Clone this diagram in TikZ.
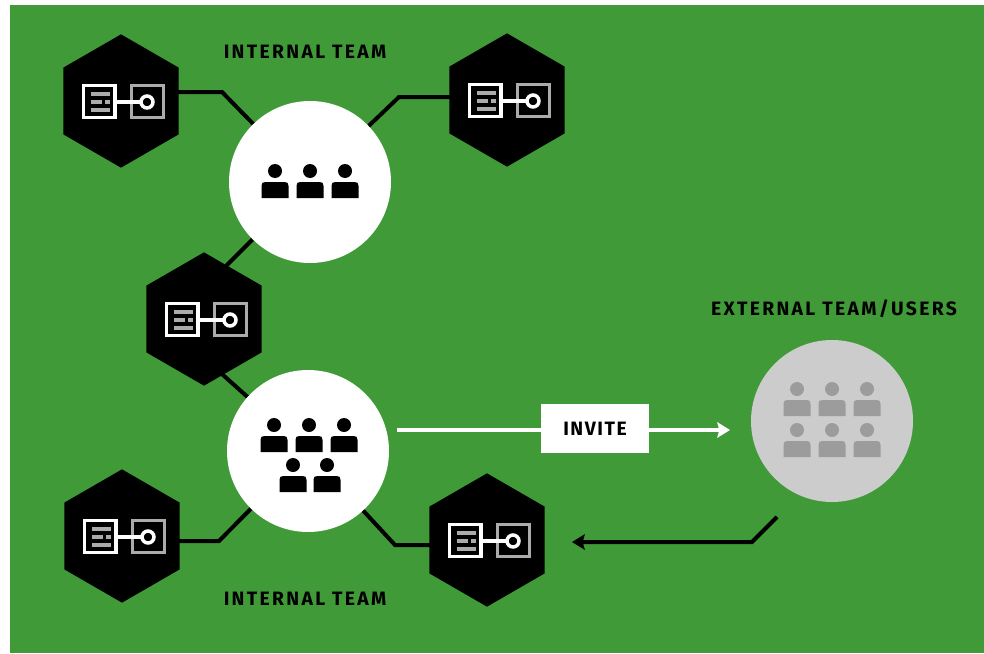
\documentclass[tikz,border=0pt]{standalone}
\usepackage{fontspec}
\setmainfont{Fira Sans}
\usetikzlibrary{shapes.geometric,arrows.meta}
\pgfdeclarelayer{conn}
\pgfsetlayers{conn,main}
\definecolor{bggreen}{HTML}{3F9A37}
\definecolor{extfill}{HTML}{CCCCCC}
\definecolor{extperson}{HTML}{9C9C9C}
\definecolor{icongray}{HTML}{ABABAB}
\tikzset{
  hexnode/.style={regular polygon,regular polygon sides=6,shape border rotate=30,fill=black,inner sep=0pt,outer sep=0pt,minimum size=100pt},
  team/.style={circle,fill=white,inner sep=0pt,outer sep=0pt,minimum size=121.5pt},
  extteam/.style={team,fill=extfill},
  conn/.style={draw=black,line width=3pt,line join=miter},
  whitearrow/.style={draw=white,line width=3pt},
  lbl/.style={inner sep=0pt,font=\bfseries\fontsize{14.5}{15}\selectfont\addfontfeatures{LetterSpace=12}},
  invitebox/.style={fill=white,inner sep=0pt,minimum width=81pt,minimum height=36.75pt,font=\bfseries\fontsize{14.5}{15}\selectfont\addfontfeatures{LetterSpace=8}},
  iconpic/.pic={
    \draw[icongray,line width=2.4pt] (10.5,-15.5) rectangle (42.5,16.5);
    \draw[white,line width=2.6pt] (-5,1) -- (20,1);
    \draw[white,line width=2.6pt,fill=black] (26,1) circle (6);
    \draw[white,line width=2.6pt] (-37.5,-15.5) rectangle (-6,16.5);
    \fill[icongray] (-30,-9.5) rectangle (-11,-5.5);
    \fill[icongray] (-30,-1.5) rectangle (-19,2.5);
    \fill[icongray] (-16,-1.5) rectangle (-11,2.5);
    \fill[icongray] (-30,6.5) rectangle (-11,10.5);
  },
  personpic/.pic={
    \fill[pic actions] (0,0) circle (7);
    \fill[pic actions] (-13.5,27) -- (-13.5,15) .. controls (-13.5,12) and (-12.5,11) .. (-9.5,11) -- (9.5,11) .. controls (12.5,11) and (13.5,12) .. (13.5,15) -- (13.5,27) -- cycle;
  }
}
\begin{document}
\begin{tikzpicture}[x=0.75pt,y=-0.75pt]
\useasboundingbox (0,0) rectangle (984,653);
\begin{pgfonlayer}{conn}
\fill[bggreen] (10,5) rectangle (984,653);
\end{pgfonlayer}

\node[hexnode] (h1) at (121,101) {};
\node[hexnode] (h2) at (507,100) {};
\node[hexnode] (h3) at (204,319) {};
\node[hexnode] (h4) at (122,536) {};
\node[hexnode] (h5) at (487,540) {};
\node[team] (c1) at (310,182) {};
\node[team] (c2) at (308,451) {};
\node[extteam] (c3) at (832,421) {};

\foreach \n in {h1,h2,h3,h4,h5} \pic at (\n) {iconpic};

\foreach \x in {275,310,345} \pic[fill=black] at (\x,171) {personpic};
\foreach \x in {274,309,344} \pic[fill=black] at (\x,425) {personpic};
\foreach \x in {293,327} \pic[fill=black] at (\x,465) {personpic};
\foreach \y in {389,430} \foreach \x in {797,832,867} \pic[fill=extperson] at (\x,\y) {personpic};

\node[lbl] (t1) at (305,51.7) {INTERNAL TEAM};
\node[lbl] (t2) at (305,598.7) {INTERNAL TEAM};
\node[lbl] (t3) at (834,308.7) {EXTERNAL TEAM/USERS};
\node[invitebox] (inv) at (595,428.5) {INVITE};

\coordinate (b1) at (222,92);
\coordinate (b2) at (399,97);
\coordinate (b3a) at (204,288);
\coordinate (b3b) at (204,358);
\coordinate (b4) at (219,541);
\coordinate (b5) at (395,545);
\coordinate (inA) at (397,430);
\coordinate (inB) at (730,430);
\coordinate (retA) at (777,517);
\coordinate (retB) at (752,542);
\coordinate (retC) at (572,542);

\begin{pgfonlayer}{conn}
\draw[conn] (h1 |- b1) -- (b1) -- (c1);
\draw[conn] (h2 |- b2) -- (b2) -- (c1);
\draw[conn] (c1) -- (b3a);
\draw[conn] (b3b) -- (c2);
\draw[conn] (h4 |- b4) -- (b4) -- (c2);
\draw[conn] (h5 |- b5) -- (b5) -- (c2);
\draw[whitearrow] (inA) -- (inv.west |- inA);
\draw[whitearrow,-{Stealth[length=9.5pt,width=11.5pt,inset=1.5pt]}] (inv.east |- inB) -- (inB);
\draw[conn,-{Stealth[length=9.5pt,width=11.5pt,inset=1.5pt]}] (retA) -- (retB) -- (retC);
\end{pgfonlayer}
\end{tikzpicture}
\end{document}
